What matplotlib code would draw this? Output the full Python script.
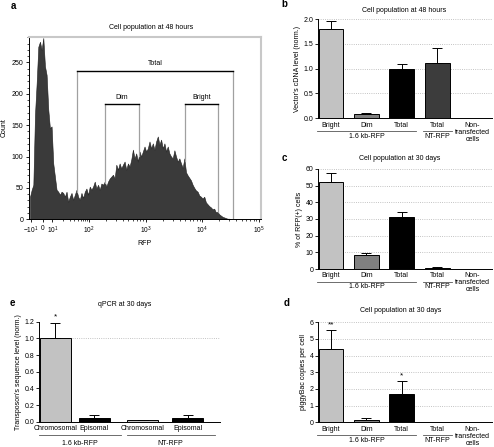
import numpy as np
import matplotlib.pyplot as plt

plt.rcParams['font.family'] = ['Liberation Sans', 'DejaVu Sans']
plt.rcParams['mathtext.fontset'] = 'custom'
plt.rcParams['mathtext.rm'] = 'Liberation Sans'
plt.rcParams['font.size'] = 5
plt.rcParams['axes.linewidth'] = 0.7

W, H = 494, 447

# ---- panel a: RFP histogram, counts read left to right ----
rfp_counts = [36, 47, 55, 167, 217, 275, 283, 270, 289, 244, 230, 175, 145, 148,
              89, 68, 47, 44, 39, 44, 42, 36, 44, 28, 36, 42, 31, 39, 47, 36,
              31, 42, 34, 44, 49, 39, 52, 47, 52, 60, 49, 55, 47, 57, 55, 60,
              52, 60, 65, 68, 71, 65, 87, 79, 89, 81, 87, 92, 79, 89, 84, 95,
              111, 97, 105, 92, 108, 100, 108, 116, 108, 113, 124, 113, 121, 111,
              124, 132, 119, 127, 113, 121, 108, 116, 105, 100, 97, 110, 100, 92,
              97, 89, 82, 97, 75, 70, 66, 62, 55, 50, 46, 44, 38, 36, 33, 36,
              27, 24, 21, 19, 16, 17, 11, 12, 8, 6, 4, 3, 2, 1, 1, 0]
rfp_first, rfp_last = 0.965, 4.503          # decade units of first/last channel
rfp_tick_pos = [0.985, 1.19, 1.36, 2, 3, 4, 5]
rfp_tick_lab = ['$-10^1$', '0', '$10^1$', '$10^2$', '$10^3$', '$10^4$', '$10^5$']
gate_names = ['Total', 'Dim', 'Bright']
gate_lo = [1.795, 2.286, 3.689]
gate_hi = [4.544, 2.882, 4.275]
gate_level = [237, 183, 183]

# ---- panels b, c, d ----
cats = ['Bright', 'Dim', 'Total', 'Total', 'Non-\ntransfected\ncells']
groups_bcd = [('1.6 kb-RFP', 0, 2), ('NT-RFP', 3, 3)]
bar_colors = ['#c2c2c2', '#808080', '#000000', '#3c3c3c', '#9a9a9a']
b_vals = [1.80, 0.08, 1.00, 1.12, 0.01]
b_err = [0.15, 0.03, 0.10, 0.30, 0.0]
c_vals = [52, 8.5, 31, 0.8, 0.3]
c_err = [5.5, 1.3, 3.3, 0.2, 0.0]
d_vals = [4.4, 0.12, 1.7, 0.03, 0.02]
d_err = [1.12, 0.12, 0.75, 0.0, 0.0]
d_stars = ['**', '', '*', '', '']

# ---- panel e ----
e_cats = ['Chromosomal', 'Episomal', 'Chromosomal', 'Episomal']
e_groups = [('1.6 kb-RFP', 0, 1), ('NT-RFP', 2, 3)]
e_vals = [1.0, 0.04, 0.015, 0.05]
e_err = [0.19, 0.045, 0.01, 0.025]
e_stars = ['*', '', '', '']
e_colors = ['#c2c2c2', '#000000', '#c2c2c2', '#000000']


def add_ax(fig, left, top, right, bottom):
    return fig.add_axes([left / W, 1 - bottom / H, (right - left) / W, (bottom - top) / H])


def ftext(fig, x, y, s, **kw):
    fig.text(x / W, 1 - y / H, s, ha='center', va='center', **kw)


def bar_panel(ax, xpos, vals, errs, colors, labels, groups, ylim, ystep, fmt,
              ylabel, stars=None, width=0.7, ext=(0.06, 0.06), hpx=100,
              line_off=12.5, text_off=18):
    xpos = np.asarray(xpos, float)
    ax.bar(xpos, vals, width, color=colors, edgecolor='black', lw=0.7, zorder=2)
    errs = np.asarray(errs, float)
    m = errs > 0
    ax.errorbar(xpos[m], np.asarray(vals)[m], yerr=[np.zeros(m.sum()), errs[m]],
                fmt='none', ecolor='black', elinewidth=0.7, capsize=3.5,
                capthick=0.7, zorder=3)
    if stars:
        for x, v, e, s in zip(xpos, vals, errs, stars):
            if s:
                ax.text(x, v + e + ylim[1] * 0.02, s, ha='center', va='bottom', fontsize=6)
    ax.set_ylim(*ylim)
    ax.set_yticks(np.arange(ylim[0], ylim[1] + ystep / 2, ystep))
    ax.yaxis.set_major_formatter(fmt)
    ax.set_ylabel(ylabel, labelpad=2)
    ax.set_xticks(xpos)
    ax.set_xticklabels(labels, linespacing=1.0)
    ax.tick_params(axis='x', length=0, pad=2.5)
    ax.tick_params(axis='y', length=2, width=0.6, pad=1.5)
    for sp in ['top', 'right']:
        ax.spines[sp].set_visible(False)
    ax.yaxis.grid(True, ls=':', color='#b0b0b0', lw=0.6)
    ax.set_axisbelow(True)
    tr = ax.get_xaxis_transform()
    for name, i0, i1 in groups:
        x0 = xpos[i0] - width / 2 - ext[0]
        x1 = xpos[i1] + width / 2 + ext[1]
        ax.plot([x0, x1], [-line_off / hpx] * 2, color='#555555', lw=0.6,
                transform=tr, clip_on=False)
        ax.text((x0 + x1) / 2, -text_off / hpx, name, transform=tr,
                ha='center', va='center')


fig = plt.figure(figsize=(W / 100, H / 100), dpi=100)

# ---------------- panel a ----------------
ax = add_ax(fig, 29, 36.7, 261, 219.3)
x = np.linspace(rfp_first, rfp_last, len(rfp_counts))
ax.fill_between(x, rfp_counts, color='#3a3a3a', lw=0.4, edgecolor='#1e1e1e')
ax.set_xlim(0.947, 5.035)
ax.set_ylim(0, 291)
ax.set_xticks(rfp_tick_pos)
ax.set_xticklabels(rfp_tick_lab, fontsize=4.8)
minor = [d + np.log10(k) for d in (2, 3, 4) for k in range(2, 10)]
minor += [1.36 + 0.64 * np.log10(k) for k in range(2, 10)]
ax.set_xticks(minor, minor=True)
ax.set_yticks(range(0, 251, 50))
ax.set_yticks(range(0, 291, 10), minor=True)
ax.tick_params(axis='both', which='major', length=2.5, width=0.6, pad=1.5)
ax.tick_params(axis='both', which='minor', length=1.3, width=0.5)
for sp in ['top', 'right']:
    ax.spines[sp].set_color('#c8c8c8')
    ax.spines[sp].set_linewidth(1.5)
ax.set_xlabel('RFP', labelpad=3)
ax.set_ylabel('Count', labelpad=3)
for name, lo, hi, lev in zip(gate_names, gate_lo, gate_hi, gate_level):
    for xx in (lo, hi):
        ax.plot([xx, xx], [np.interp(xx, x, rfp_counts), lev], color='#a0a0a0', lw=0.9)
    ax.plot([lo, hi], [lev, lev], color='black', lw=1.0)
    ax.text((lo + hi) / 2, lev + 5, name, ha='center', va='bottom')

ftext(fig, 13, 6, 'a', fontweight='bold', fontsize=7)
ftext(fig, 151, 27.5, 'Cell population at 48 hours')

# ---------------- panel b ----------------
xb = np.arange(len(cats))
ax = add_ax(fig, 318.3, 19, 492, 118.3)
bar_panel(ax, xb, b_vals, b_err, bar_colors, cats, groups_bcd, (0, 2.0), 0.5,
          '{x:.1f}', "Vector's cDNA level (norm.)", hpx=99.3)
ax.set_xlim(-0.36, 4.55)
ftext(fig, 284, 4, 'b', fontweight='bold', fontsize=7)
ftext(fig, 404, 10.5, 'Cell population at 48 hours')

# ---------------- panel c ----------------
ax = add_ax(fig, 318.3, 169, 492, 269)
bar_panel(ax, xb, c_vals, c_err, bar_colors, cats, groups_bcd, (0, 60), 10,
          '{x:.0f}', '% of RFP(+) cells')
ax.set_xlim(-0.36, 4.55)
ftext(fig, 284, 158, 'c', fontweight='bold', fontsize=7)
ftext(fig, 400, 158.5, 'Cell population at 30 days')

# ---------------- panel d ----------------
ax = add_ax(fig, 318.3, 322.3, 492, 422.3)
bar_panel(ax, xb, d_vals, d_err, bar_colors, cats, groups_bcd, (0, 6), 1,
          '{x:.0f}', 'piggyBac copies per cell', stars=d_stars)
ax.set_xlim(-0.36, 4.55)
ftext(fig, 287, 303, 'd', fontweight='bold', fontsize=7)
ftext(fig, 401, 310, 'Cell population at 30 days')

# ---------------- panel e ----------------
xe = [0, 1, 2.25, 3.4]
ax = add_ax(fig, 39.3, 321.7, 220, 421.7)
bar_panel(ax, xe, e_vals, e_err, e_colors, e_cats, e_groups, (0, 1.2), 0.2,
          '{x:.1f}', "Transposon's sequence level (norm.)", stars=e_stars,
          width=0.8, ext=(0.02, 0.3), line_off=13.5, text_off=22)
ax.yaxis.grid(False)
ax.axhline(1.0, ls=':', color='#b0b0b0', lw=0.6, zorder=0)
ax.set_xlim(-0.41, 4.23)
ftext(fig, 12, 303, 'e', fontweight='bold', fontsize=7)
ftext(fig, 125, 305, 'qPCR at 30 days')

fig.savefig('out.png', dpi=100)
